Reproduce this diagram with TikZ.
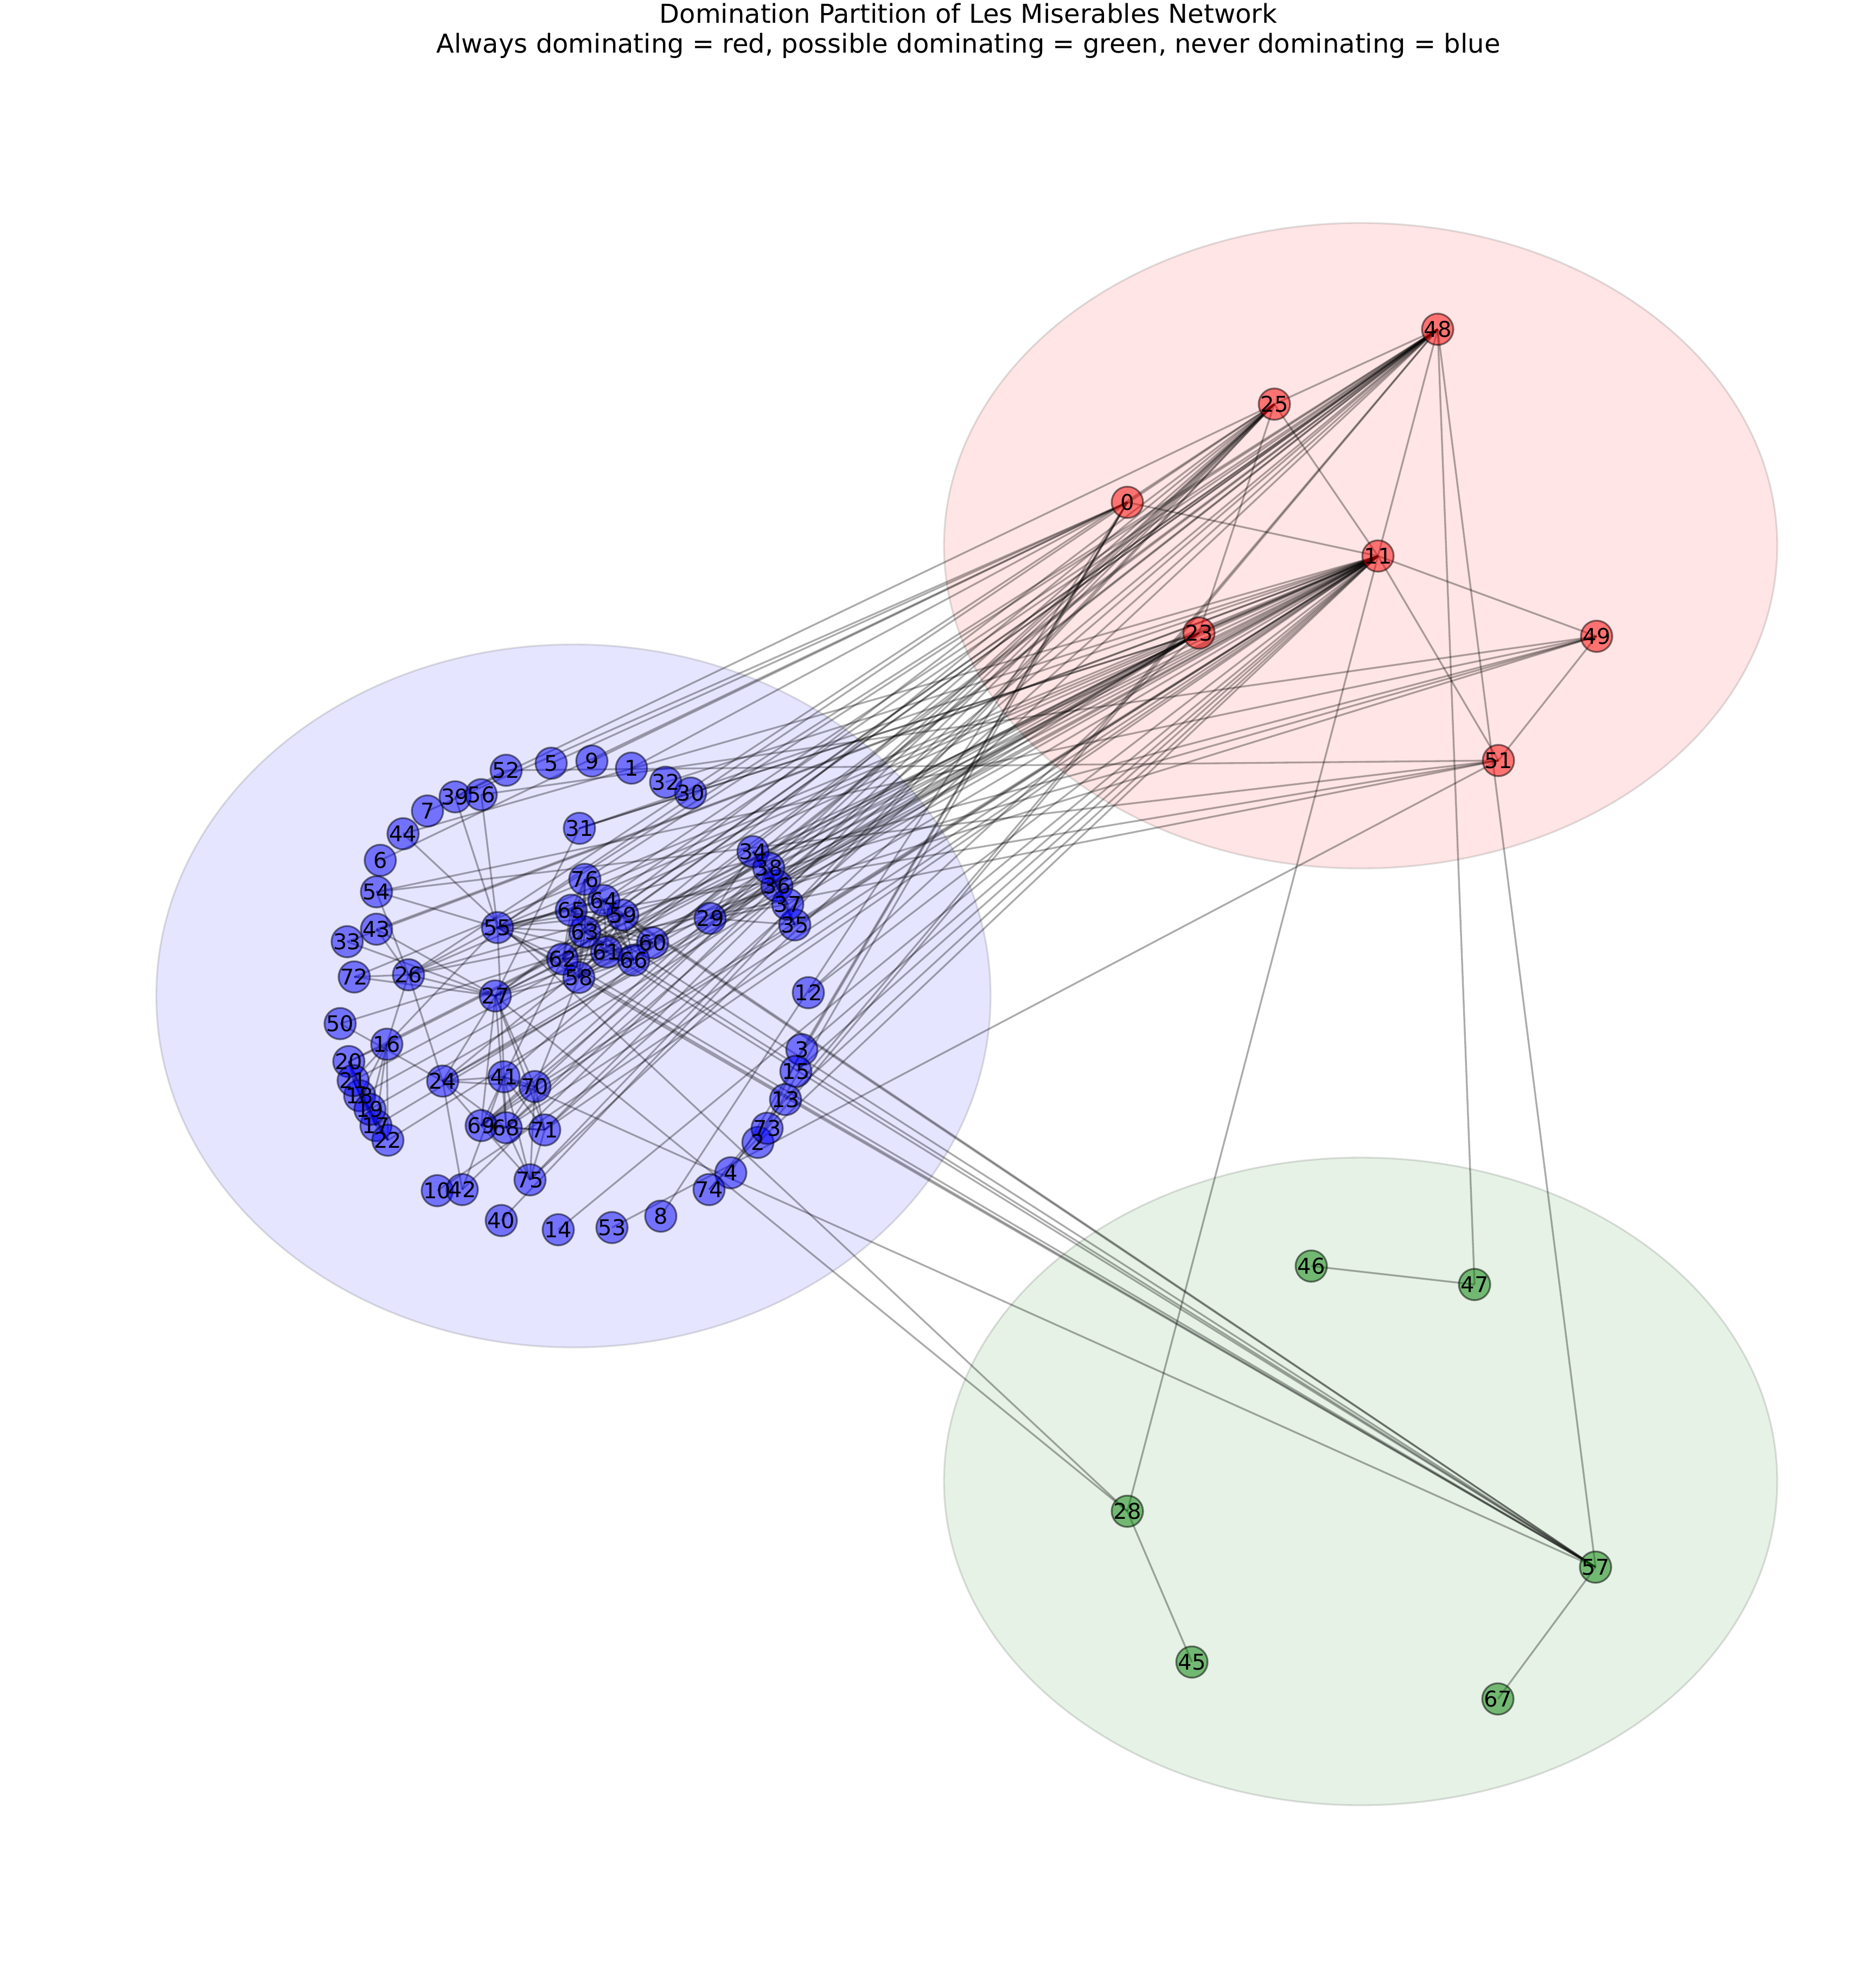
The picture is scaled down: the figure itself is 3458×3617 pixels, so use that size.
\documentclass[tikz,border=0pt]{standalone}
\usepackage{fontspec}
\setmainfont{DejaVu Sans}
\pgfdeclarelayer{ellbg}
\pgfdeclarelayer{edgelay}
\pgfsetlayers{ellbg,edgelay,main}
\definecolor{mplred}{RGB}{255,0,0}
\definecolor{mplblue}{RGB}{0,0,255}
\definecolor{mplgreen}{RGB}{0,128,0}
\tikzset{
  vx/.style={circle,minimum size=17.32pt,inner sep=0pt,draw=black,draw opacity=0.5,fill opacity=0.5,line width=1pt},
  lbl/.style={inner sep=0pt,font=\fontsize{12}{14}\selectfont,text=black},
  edge/.style={draw=black,draw opacity=0.33,line width=1pt},
  region/.style={fill opacity=0.1},
  regionline/.style={draw=black,draw opacity=0.12,line width=1pt},
  ttl/.style={inner sep=0pt,anchor=base,font=\fontsize{14.4}{17}\selectfont}
}
\begin{document}
\begin{tikzpicture}[x=0.3pt,y=-0.3pt]
\useasboundingbox (0,0) rectangle (3458,3617);
\begin{pgfonlayer}{ellbg}
\fill[white] (0,0) rectangle (3458,3617);
\fill[mplred,region] (2508,1006) ellipse [x radius=230.4pt, y radius=178.5pt];
\draw[regionline] (2508,1006) ellipse [x radius=230.4pt, y radius=178.5pt];
\fill[mplblue,region] (1057,1836) ellipse [x radius=230.7pt, y radius=194.4pt];
\draw[regionline] (1057,1836) ellipse [x radius=230.7pt, y radius=194.4pt];
\fill[mplgreen,region] (2508,2731) ellipse [x radius=230.4pt, y radius=179.1pt];
\draw[regionline] (2508,2731) ellipse [x radius=230.4pt, y radius=179.1pt];
\end{pgfonlayer}
% nodes
\foreach \i/\x/\y/\c in {
0/2078/926/mplred, 1/1164/1416/mplblue, 2/1397/2106/mplblue, 3/1478/1935/mplblue,
4/1347/2162/mplblue, 5/1016/1407/mplblue, 6/701/1586/mplblue, 7/788/1495/mplblue,
8/1218/2242/mplblue, 9/1091/1403/mplblue, 10/806/2195/mplblue, 11/2540/1025/mplred,
12/1490/1830/mplblue, 13/1448/2027/mplblue, 14/1029/2267/mplblue, 15/1467/1975/mplblue,
16/713/1925/mplblue, 17/693/2075/mplblue, 18/663/2020/mplblue, 19/682/2045/mplblue,
20/643/1957/mplblue, 21/651/1992/mplblue, 22/715/2102/mplblue, 23/2210/1167/mplred,
24/816/1993/mplblue, 25/2349/745/mplred, 26/753/1797/mplblue, 27/913/1836/mplblue,
28/2078/2786/mplgreen, 29/1309/1693/mplblue, 30/1273/1462/mplblue, 31/1068/1527/mplblue,
32/1227/1442/mplblue, 33/640/1736/mplblue, 34/1388/1570/mplblue, 35/1465/1705/mplblue,
36/1432/1633/mplblue, 37/1452/1667/mplblue, 38/1417/1600/mplblue, 39/839/1469/mplblue,
40/924/2250/mplblue, 41/929/1985/mplblue, 42/852/2193/mplblue, 43/694/1713/mplblue,
44/743/1537/mplblue, 45/2197/3064/mplgreen, 46/2417/2334/mplgreen, 47/2718/2368/mplgreen,
48/2650/607/mplred, 49/2943/1173/mplred, 50/627/1887/mplblue, 51/2762/1402/mplred,
52/933/1420/mplblue, 53/1128/2263/mplblue, 54/694/1644/mplblue, 55/917/1710/mplblue,
56/887/1465/mplblue, 57/2941/2889/mplgreen, 58/1067/1802/mplblue, 59/1148/1687/mplblue,
60/1203/1738/mplblue, 61/1118/1755/mplblue, 62/1037/1768/mplblue, 63/1078/1718/mplblue,
64/1113/1660/mplblue, 65/1053/1678/mplblue, 66/1168/1770/mplblue, 67/2761/3132/mplgreen,
68/933/2079/mplblue, 69/887/2075/mplblue, 70/986/2003/mplblue, 71/1004/2083/mplblue,
72/653/1801/mplblue, 73/1414/2080/mplblue, 74/1307/2193/mplblue, 75/977/2175/mplblue,
76/1078/1621/mplblue}
  \node[vx,fill=\c] (n\i) at (\x,\y) {};
% edges
\begin{pgfonlayer}{edgelay}
\foreach \a/\b in {
1/0, 2/0, 3/0, 3/2, 4/0, 5/0, 6/0, 7/0, 8/0, 9/0, 11/10, 11/3, 11/2, 11/0, 12/11, 13/11, 14/11, 15/11,
17/16, 18/16, 18/17, 19/16, 19/17, 19/18, 20/16, 20/17, 20/18, 20/19, 21/16, 21/17, 21/18, 21/19, 21/20,
22/16, 22/17, 22/18, 22/19, 22/20, 22/21, 23/16, 23/17, 23/18, 23/19, 23/20, 23/21, 23/22, 23/12, 23/11,
24/23, 24/11, 25/24, 25/23, 25/11, 26/24, 26/11, 26/16, 26/25, 27/11, 27/23, 27/25, 27/24, 27/26,
28/11, 28/27, 29/23, 29/27, 29/11, 30/23, 31/30, 31/11, 31/23, 31/27, 32/11, 33/11, 33/27, 34/11, 34/29,
35/34, 35/11, 35/29, 36/34, 36/35, 36/11, 36/29, 37/34, 37/35, 37/36, 37/11, 37/29,
38/34, 38/35, 38/36, 38/37, 38/11, 38/29, 39/25, 40/25, 41/24, 41/25, 42/41, 42/25, 42/24,
43/11, 43/26, 43/27, 44/28, 44/11, 45/28, 47/46, 48/47, 48/25, 48/27, 48/11, 49/26, 49/11, 50/49, 50/24,
51/49, 51/26, 51/11, 52/51, 52/39, 53/51, 54/51, 54/49, 54/26, 55/51, 55/49, 55/39, 55/54, 55/26, 55/11,
55/16, 55/25, 55/41, 55/48, 56/49, 56/55, 57/55, 57/41, 57/48, 58/55, 58/48, 58/27, 58/57, 58/11,
59/58, 59/55, 59/48, 59/57, 60/48, 60/58, 60/59, 61/48, 61/58, 61/60, 61/59, 61/57, 61/55,
62/55, 62/58, 62/59, 62/48, 62/57, 62/41, 62/61, 62/60, 63/59, 63/48, 63/62, 63/57, 63/58, 63/61, 63/60, 63/55,
64/55, 64/62, 64/48, 64/63, 64/58, 64/61, 64/60, 64/59, 64/57, 64/11,
65/63, 65/64, 65/48, 65/62, 65/58, 65/61, 65/60, 65/59, 65/57, 65/55,
66/64, 66/58, 66/59, 66/62, 66/65, 66/48, 66/63, 66/61, 66/60, 67/57,
68/25, 68/11, 68/24, 68/27, 68/48, 68/41, 69/25, 69/68, 69/11, 69/24, 69/27, 69/48, 69/41,
70/25, 70/69, 70/68, 70/11, 70/24, 70/27, 70/41, 70/58, 71/27, 71/69, 71/68, 71/70, 71/11, 71/48, 71/41, 71/25,
72/26, 72/27, 72/11, 73/48, 74/48, 74/73, 75/69, 75/68, 75/25, 75/48, 75/41, 75/70, 75/71,
76/64, 76/65, 76/66, 76/63, 76/62, 76/48, 76/58}
  \draw[edge] (n\a.center) -- (n\b.center);
\end{pgfonlayer}
% labels
\foreach \i in {0,...,76}
  \node[lbl] (t\i) at (n\i.center) {\i};
% title
\node[ttl] (title1) at (1785,42) {Domination Partition of Les Miserables Network};
\node[ttl] (title2) at (1785,97) {Always dominating = red, possible dominating = green, never dominating = blue};
\end{tikzpicture}
\end{document}
